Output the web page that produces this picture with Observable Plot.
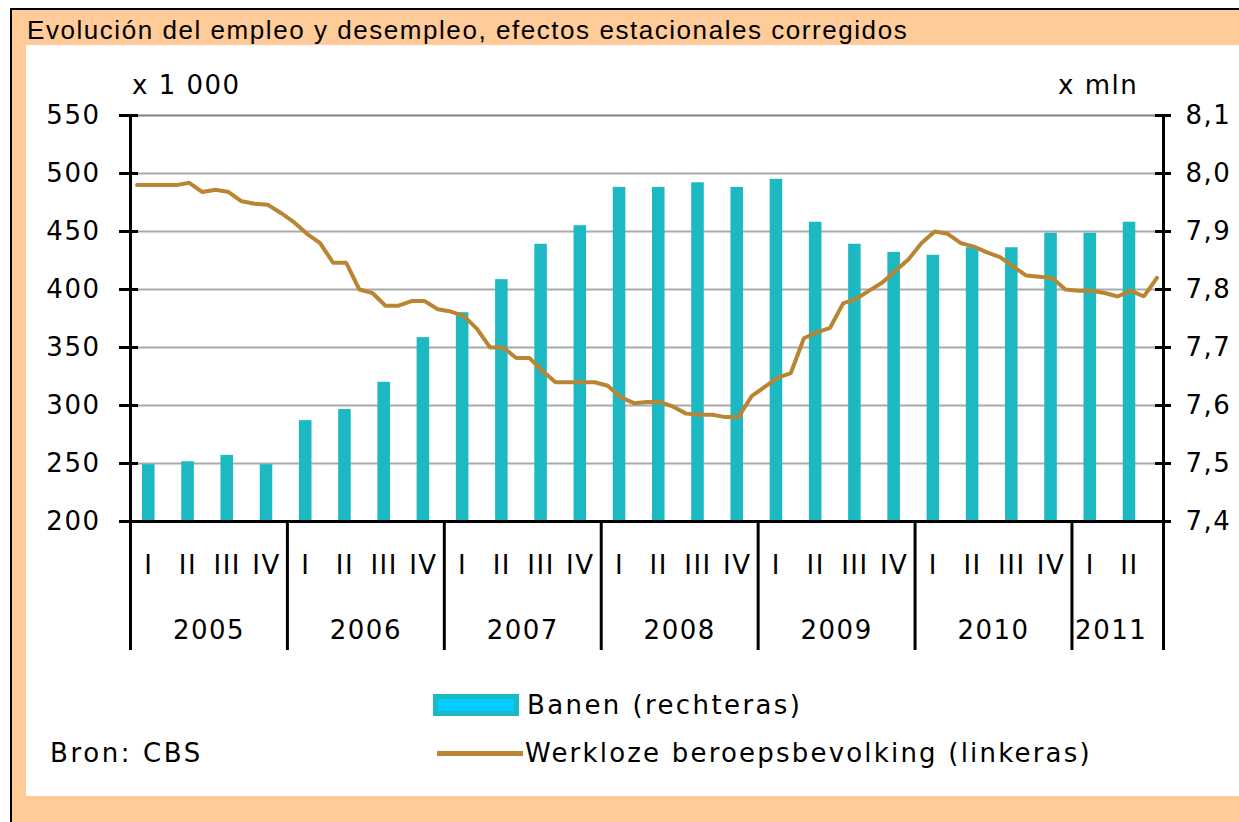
<!DOCTYPE html>
<html>
<head>
<meta charset="utf-8">
<script src="https://cdn.jsdelivr.net/npm/d3@7"></script>
<script src="https://cdn.jsdelivr.net/npm/@observablehq/plot@0.6"></script>
<style>
  html, body { margin: 0; padding: 0; background: #fff; }
  #page { position: relative; width: 1239px; height: 822px; overflow: hidden; background: #fff; }
  #frame { position: absolute; left: 10px; top: 8px; width: 1250px; height: 830px; background: #FFCC99; border-left: 2px solid #000; border-top: 2px solid #000; }
  #title { position: absolute; left: 27px; top: 17px; font-family: "Liberation Sans", Arial, sans-serif; font-size: 26px; line-height: 26px; letter-spacing: 1.55px; color: #000; white-space: nowrap; }
  #white { position: absolute; left: 26px; top: 45px; width: 1213px; height: 751px; background: #fff; }
  #chart { position: absolute; left: 0; top: 0; }
  .lbl { position: absolute; font-family: "DejaVu Sans", sans-serif; font-size: 26px; line-height: 26px; letter-spacing: 1.5px; color: #000; white-space: nowrap; }
  .leg { letter-spacing: 2.2px; }
</style>
</head>
<body>
<div id="page">
  <div id="frame"></div>
  <div id="title">Evolución del empleo y desempleo, efectos estacionales corregidos</div>
  <div id="white"></div>
  <div id="chart"></div>
  <div class="lbl" style="left:132px;top:72px">x 1 000</div>
  <div class="lbl" style="left:1058px;top:72px">x mln</div>
  <div style="position:absolute;left:433px;top:694px;width:76px;height:12px;background:#00CCFF;border:5px solid #1DB9C3"></div>
  <div class="lbl leg" style="left:527px;top:692px;letter-spacing:2.4px">Banen (rechteras)</div>
  <div style="position:absolute;left:437px;top:751px;width:86px;height:5px;background:#BA8532"></div>
  <div class="lbl leg" style="left:50px;top:740px;letter-spacing:2.6px">Bron: CBS</div>
  <div class="lbl leg" style="left:525px;top:740px">Werkloze beroepsbevolking (linkeras)</div>
</div>
<script>
// Quarterly jobs (x mln, right axis), 2005 Q1 – 2011 Q2
const banen = [
  7.498, 7.503, 7.514, 7.498,
  7.574, 7.593, 7.640, 7.717,
  7.760, 7.817, 7.878, 7.910,
  7.976, 7.976, 7.984, 7.976,
  7.990, 7.916, 7.878, 7.864,
  7.859, 7.872, 7.872, 7.897,
  7.897, 7.916
];
// Monthly unemployed labour force (x 1 000, left axis), Jan 2005 – Jul 2011
const werkloos = [
  490, 490, 490, 490, 492, 484, 486, 484, 476, 474, 473, 466,
  458, 448, 440, 423, 423, 400, 397, 386, 386, 390, 390, 383,
  381, 377, 366, 350, 350, 341, 341, 330, 320, 320, 320, 320,
  317, 307, 302, 303, 303, 299, 293, 292, 292, 290, 290, 308,
  316, 324, 328, 358, 363, 367, 388, 392, 399, 406, 416, 426,
  440, 450, 448, 440, 437, 432, 428, 420, 412, 411, 410, 400,
  399, 399, 397, 394, 399, 394, 410
];
const quarterNames = ["I", "II", "III", "IV"];
const years = ["2005", "2006", "2007", "2008", "2009", "2010", "2011"];
const leftTicks = [200, 250, 300, 350, 400, 450, 500, 550];
const rightTicks = [7.4, 7.5, 7.6, 7.7, 7.8, 7.9, 8.0, 8.1];

// right axis (7.4–8.1) mapped onto left axis (200–550)
const rToL = r => 200 + (r - 7.4) / 0.002;
const nMonths = werkloos.length;

const bars = banen.map((v, i) => ({q: i, v}));
const line = werkloos.map((v, m) => ({m, v}));
const qLabels = banen.map((v, i) => ({q: i, label: quarterNames[i % 4]}));
const yearBounds = years.map((y, i) => i * 12).concat([nMonths]);
const yearLabels = years.map((y, i) => {
  const nq = Math.min(4, banen.length - i * 4);
  return {label: y, x: i * 12 + nq * 1.5};
});
const innerBounds = yearBounds.slice(1, -1);

const font = "DejaVu Sans";
const txt = {fontFamily: font, fontSize: 26, fill: "#000"};

const chart = Plot.plot({
  width: 1239,
  height: 660,
  marginLeft: 130,
  marginRight: 76,
  marginTop: 115,
  marginBottom: 139,
  style: {background: "transparent", fontFamily: font, letterSpacing: "1.5px"},
  x: {domain: [0, nMonths], axis: null},
  y: {domain: [200, 550], axis: null},
  marks: [
    Plot.ruleY(leftTicks.filter(d => d > 200 && d < 550), {y: d => d, stroke: "#AAAAAA", strokeWidth: 2}),
    Plot.ruleY([550], {y: d => d, stroke: "#808080", strokeWidth: 2}),
    Plot.rect(bars, {x1: d => d.q * 3 + 0.92, x2: d => d.q * 3 + 1.88, y1: () => 200, y2: d => rToL(d.v), fill: "#1DB9C3"}),
    Plot.line(line, {x: d => d.m + 0.5, y: d => d.v, stroke: "#BA8532", strokeWidth: 4, strokeLinejoin: "miter"}),
    // axes frame
    Plot.ruleX([0, nMonths], {x: d => d, stroke: "#000", strokeWidth: 3, insetBottom: -129}),
    Plot.ruleX(innerBounds, {x: d => d, stroke: "#000", strokeWidth: 3, insetTop: 406, insetBottom: -129}),
    Plot.ruleY([200], {y: d => d, stroke: "#000", strokeWidth: 3, insetLeft: -11, insetRight: -8}),
    // tick marks
    Plot.ruleY(leftTicks, {y: d => d, x1: () => 0, x2: () => 0, stroke: "#000", strokeWidth: 3, insetLeft: -11, insetRight: -8}),
    Plot.ruleY(leftTicks, {y: d => d, x1: () => nMonths, x2: () => nMonths, stroke: "#000", strokeWidth: 3, insetLeft: -8, insetRight: -8}),
    // tick labels
    Plot.text(leftTicks, {y: d => d, frameAnchor: "left", dx: -30, textAnchor: "end", text: d => String(d), ...txt}),
    Plot.text(rightTicks, {y: d => rToL(d), frameAnchor: "right", dx: 22, textAnchor: "start", text: d => d.toFixed(1).replace(".", ","), ...txt}),
    // category axis
    Plot.text(qLabels, {x: d => d.q * 3 + 1.4, frameAnchor: "bottom", dy: 52, text: "label", ...txt}),
    Plot.text(yearLabels, {x: "x", frameAnchor: "bottom", dy: 117, text: "label", ...txt})
  ]
});
document.getElementById("chart").appendChild(chart);
</script>
</body>
</html>
